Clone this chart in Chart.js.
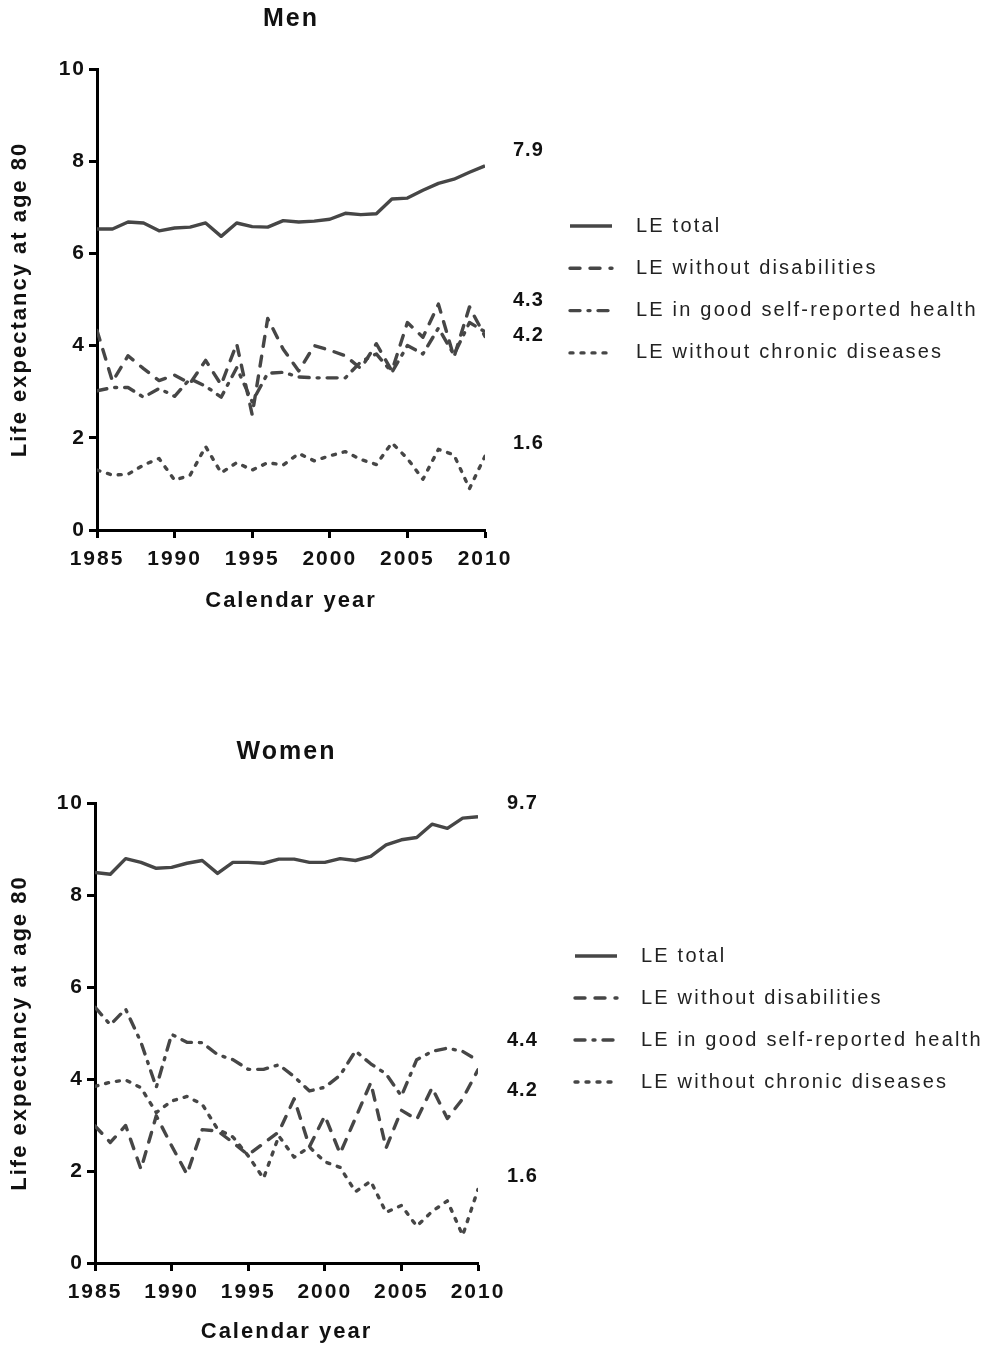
<!DOCTYPE html>
<html>
<head>
<meta charset="utf-8">
<title>Life expectancy at age 80, 1985-2010</title>
<script src="https://cdn.jsdelivr.net/npm/chart.js@4.4.1/dist/chart.umd.min.js"></script>
<style>
  html, body { margin: 0; padding: 0; background: #fff; }
  body { position: relative; width: 988px; height: 1347px; overflow: hidden; }
  canvas { position: absolute; left: 0; }
  #menChart { top: 0; }
  #womenChart { top: 733px; }
</style>
</head>
<body>
<canvas id="menChart" width="988" height="614"></canvas>
<canvas id="womenChart" width="988" height="614"></canvas>
<script>
// calendar years on the x axis
const years = [1985, 1986, 1987, 1988, 1989, 1990, 1991, 1992, 1993, 1994, 1995, 1996, 1997,
  1998, 1999, 2000, 2001, 2002, 2003, 2004, 2005, 2006, 2007, 2008, 2009, 2010];
const xTicks = [1985, 1990, 1995, 2000, 2005, 2010];
const yTicks = [0, 2, 4, 6, 8, 10];

const seriesNames = ["LE total", "LE without disabilities",
  "LE in good self-reported health", "LE without chronic diseases"];

// men, remaining years at age 80
const menTotal = [6.53, 6.53, 6.68, 6.66, 6.49, 6.55, 6.57, 6.66, 6.37, 6.66, 6.58, 6.57, 6.71,
  6.68, 6.70, 6.74, 6.87, 6.84, 6.86, 7.18, 7.20, 7.37, 7.52, 7.61, 7.76, 7.9];
const menNoDisability = [4.33, 3.22, 3.78, 3.50, 3.24, 3.36, 3.18, 3.68, 3.15, 4.04, 2.50, 4.59, 3.92,
  3.45, 4.00, 3.90, 3.78, 3.50, 4.04, 3.45, 4.50, 4.18, 4.90, 3.75, 4.84, 4.2];
const menGoodHealth = [3.02, 3.09, 3.09, 2.88, 3.07, 2.90, 3.28, 3.12, 2.88, 3.52, 2.78, 3.40, 3.42,
  3.32, 3.30, 3.30, 3.30, 3.65, 3.82, 3.42, 4.00, 3.82, 4.38, 3.80, 4.50, 4.3];
const menNoChronic = [1.30, 1.19, 1.21, 1.41, 1.55, 1.08, 1.19, 1.81, 1.24, 1.46, 1.30, 1.46, 1.41,
  1.66, 1.50, 1.61, 1.70, 1.53, 1.42, 1.89, 1.55, 1.10, 1.75, 1.63, 0.90, 1.6];

// women
const womenTotal = [8.49, 8.45, 8.79, 8.71, 8.58, 8.60, 8.69, 8.75, 8.47, 8.71, 8.71, 8.69, 8.78,
  8.78, 8.71, 8.71, 8.79, 8.75, 8.84, 9.09, 9.20, 9.25, 9.54, 9.45, 9.67, 9.7];
const womenNoDisability = [2.98, 2.62, 2.99, 2.04, 3.20, 2.55, 1.93, 2.90, 2.87, 2.62, 2.35, 2.60, 2.85,
  3.57, 2.53, 3.20, 2.38, 3.15, 3.92, 2.50, 3.32, 3.12, 3.81, 3.14, 3.57, 4.2];
const womenGoodHealth = [5.56, 5.18, 5.52, 4.80, 3.82, 4.97, 4.80, 4.79, 4.53, 4.42, 4.21, 4.21, 4.31,
  4.05, 3.74, 3.82, 4.08, 4.61, 4.33, 4.11, 3.63, 4.42, 4.60, 4.67, 4.60, 4.4];
const womenNoChronic = [3.84, 3.93, 3.98, 3.81, 3.27, 3.52, 3.62, 3.45, 2.91, 2.74, 2.33, 1.84, 2.76,
  2.30, 2.52, 2.20, 2.08, 1.55, 1.78, 1.10, 1.25, 0.80, 1.12, 1.35, 0.60, 1.6];

const FONT = "'Liberation Sans', Arial, sans-serif";
const lineColor = "#464646";
const seriesDash = [[], [10, 10], [10, 8, 2, 8], [3, 8]];

// end-of-line values and the legend, drawn right of the plot
const sideNotes = {
  id: "sideNotes",
  beforeDraw(chart) {
    chart.ctx.letterSpacing = "2px";
  },
  afterDraw(chart, args, opts) {
    const ctx = chart.ctx;
    const yScale = chart.scales.y;
    const sets = chart.data.datasets;
    ctx.save();
    ctx.textAlign = "left";
    ctx.textBaseline = "middle";

    ctx.font = "bold 20px " + FONT;
    ctx.fillStyle = "#111";
    ctx.letterSpacing = "1px";
    opts.valueOrder.forEach((di, i) => {
      const d = sets[di].data;
      const last = d[d.length - 1].y;
      ctx.fillText(last.toFixed(1), opts.valueX, yScale.getPixelForValue(opts.valueAt[i]));
    });

    ctx.font = "20px " + FONT;
    ctx.fillStyle = "#222";
    ctx.letterSpacing = "2.2px";
    sets.forEach((ds, i) => {
      const y = opts.legendY + i * opts.legendGap;
      ctx.save();
      ctx.strokeStyle = ds.borderColor;
      ctx.lineWidth = ds.borderWidth;
      ctx.lineCap = ds.borderCapStyle;
      ctx.setLineDash(ds.borderDash);
      ctx.beginPath();
      ctx.moveTo(opts.legendX, y);
      ctx.lineTo(opts.legendX + 42, y);
      ctx.stroke();
      ctx.restore();
      ctx.fillText(ds.label, opts.legendX + 66, y);
    });
    ctx.restore();
  }
};

function buildChart(id, title, values, box) {
  const datasets = values.map((vals, i) => ({
    label: seriesNames[i],
    data: vals.map((v, k) => ({ x: years[k], y: v })),
    borderColor: lineColor,
    borderWidth: 3.4,
    borderDash: seriesDash[i],
    borderCapStyle: i === 0 ? "butt" : "round",
    borderJoinStyle: "round",
    pointRadius: 0,
    tension: 0,
    fill: false
  }));

  const tickFont = { family: FONT, size: 21, weight: "bold" };
  const axisTitleFont = { family: FONT, size: 22, weight: "bold" };

  return new Chart(document.getElementById(id), {
    type: "line",
    data: { datasets },
    options: {
      responsive: false,
      animation: false,
      events: [],
      layout: { padding: { left: 0, right: 988 - box.right, top: 0, bottom: 0 } },
      plugins: {
        legend: { display: false },
        tooltip: { enabled: false },
        title: {
          display: true,
          fullSize: false,
          text: title,
          color: "#111",
          font: { family: FONT, size: 25, weight: "bold" },
          padding: { top: 4, bottom: box.titleGap }
        },
        sideNotes: box.notes
      },
      scales: {
        x: {
          type: "linear",
          min: 1985,
          max: 2010,
          afterBuildTicks: s => { s.ticks = xTicks.map(v => ({ value: v })); },
          afterFit: s => { s.height = box.xHeight; },
          border: { color: "#000", width: 3 },
          grid: { drawOnChartArea: false, tickLength: 8, tickWidth: 3, tickColor: "#000" },
          ticks: { color: "#111", font: tickFont, padding: 9, maxRotation: 0, callback: v => String(v) },
          title: {
            display: true,
            text: "Calendar year",
            color: "#111",
            font: axisTitleFont,
            padding: { top: 0, bottom: box.xTitlePad }
          }
        },
        y: {
          min: 0,
          max: 10,
          afterBuildTicks: s => { s.ticks = yTicks.map(v => ({ value: v })); },
          afterFit: s => { s.width = box.left; },
          border: { color: "#000", width: 3 },
          grid: { drawOnChartArea: false, tickLength: 8, tickWidth: 3, tickColor: "#000" },
          ticks: { color: "#111", font: tickFont, padding: 3 },
          title: {
            display: true,
            text: "Life expectancy at age 80",
            color: "#111",
            font: axisTitleFont,
            padding: { top: 7, bottom: 0 }
          }
        }
      }
    },
    plugins: [sideNotes]
  });
}

buildChart("menChart", "Men", [menTotal, menNoDisability, menGoodHealth, menNoChronic], {
  left: 97, right: 485, titleGap: 35, xHeight: 84, xTitlePad: 0,
  notes: {
    valueX: 513, valueOrder: [0, 2, 1, 3], valueAt: [8.24, 4.97, 4.23, 1.87],
    legendX: 570, legendY: 226, legendGap: 42.3
  }
});

buildChart("womenChart", "Women", [womenTotal, womenNoDisability, womenGoodHealth, womenNoChronic], {
  left: 95, right: 478, titleGap: 36, xHeight: 84, xTitlePad: 2,
  notes: {
    valueX: 507, valueOrder: [0, 2, 1, 3], valueAt: [10.0, 4.83, 3.74, 1.87],
    legendX: 575, legendY: 223, legendGap: 42
  }
});
</script>
</body>
</html>
